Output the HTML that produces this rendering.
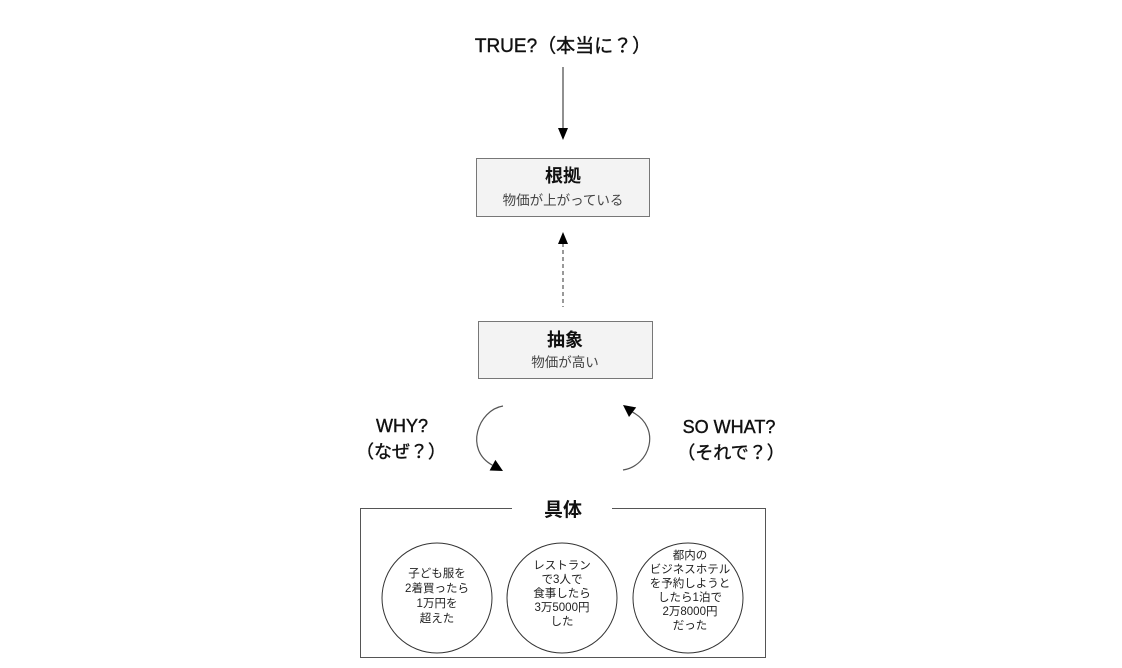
<!DOCTYPE html>
<html><head><meta charset="utf-8">
<style>
html,body{margin:0;padding:0;background:#fff;}
svg{display:block;}
text{font-family:"Liberation Sans","Noto Sans CJK JP",sans-serif;}
</style></head>
<body>
<svg width="1122" height="668" viewBox="0 0 1122 668" xmlns="http://www.w3.org/2000/svg">
<rect width="1122" height="668" fill="#fff"/>

<!-- TRUE? -->
<text x="563" y="52" font-size="19" text-anchor="middle" fill="#111" stroke="#111" stroke-width="0.4">TRUE?（本当に？）</text>
<line x1="563" y1="67" x2="563" y2="130" stroke="#222" stroke-width="1"/>
<polygon points="558,128 568,128 563,140" fill="#000"/>

<!-- 根拠 box -->
<rect x="476.5" y="158.5" width="173" height="58" fill="#f3f3f3" stroke="#777" stroke-width="1"/>
<text x="563" y="182" font-size="18" font-weight="bold" text-anchor="middle" fill="#111">根拠</text>
<text x="563" y="205" font-size="13.5" text-anchor="middle" fill="#444">物価が上がっている</text>

<!-- dashed arrow -->
<line x1="563" y1="243" x2="563" y2="307" stroke="#333" stroke-width="1" stroke-dasharray="4,3"/>
<polygon points="558,244 568,244 563,232" fill="#000"/>

<!-- 抽象 box -->
<rect x="478.5" y="321.5" width="174" height="57" fill="#f3f3f3" stroke="#777" stroke-width="1"/>
<text x="565" y="346" font-size="18" font-weight="bold" text-anchor="middle" fill="#111">抽象</text>
<text x="565" y="367" font-size="13.5" text-anchor="middle" fill="#444">物価が高い</text>

<!-- WHY -->
<text x="402" y="432" font-size="18" text-anchor="middle" fill="#111" stroke="#111" stroke-width="0.4">WHY?</text>
<text x="401" y="458" font-size="18" text-anchor="middle" fill="#111" stroke="#111" stroke-width="0.4">（なぜ？）</text>

<!-- SO WHAT -->
<text x="729" y="433" font-size="18" text-anchor="middle" fill="#111" stroke="#111" stroke-width="0.4">SO WHAT?</text>
<text x="731" y="459" font-size="18" text-anchor="middle" fill="#111" stroke="#111" stroke-width="0.4">（それで？）</text>

<!-- arcs -->
<path d="M503,406 C478,410 464,450 492.5,465.2" fill="none" stroke="#555" stroke-width="1.2"/>
<polygon points="503,471 489.6,470.5 495.4,459.9" fill="#000"/>
<path d="M623,470 C650,466 662,428 632.6,412.2" fill="none" stroke="#555" stroke-width="1.2"/>
<polygon points="623,405 636.2,407.4 629,417" fill="#000"/>

<!-- 具体 frame -->
<path d="M512,508.5 L360.5,508.5 L360.5,657.5 L765.5,657.5 L765.5,508.5 L612,508.5" fill="none" stroke="#555" stroke-width="1"/>
<text x="563" y="516" font-size="19" font-weight="bold" text-anchor="middle" fill="#111">具体</text>

<!-- circles -->
<circle cx="437" cy="598" r="55" fill="#fff" stroke="#333" stroke-width="1"/>
<circle cx="562" cy="598" r="55" fill="#fff" stroke="#333" stroke-width="1"/>
<circle cx="688" cy="598" r="55" fill="#fff" stroke="#333" stroke-width="1"/>

<g font-size="11.5" text-anchor="middle" fill="#222">
<text x="437" y="577">子ども服を</text>
<text x="437" y="592">2着買ったら</text>
<text x="437" y="607">1万円を</text>
<text x="437" y="622">超えた</text>

<text x="562" y="569">レストラン</text>
<text x="562" y="583">で3人で</text>
<text x="562" y="597">食事したら</text>
<text x="562" y="611">3万5000円</text>
<text x="562" y="625">した</text>

<text x="690" y="559">都内の</text>
<text x="690" y="573">ビジネスホテル</text>
<text x="690" y="587">を予約しようと</text>
<text x="690" y="601">したら1泊で</text>
<text x="690" y="615">2万8000円</text>
<text x="690" y="629">だった</text>
</g>
</svg>
</body></html>
